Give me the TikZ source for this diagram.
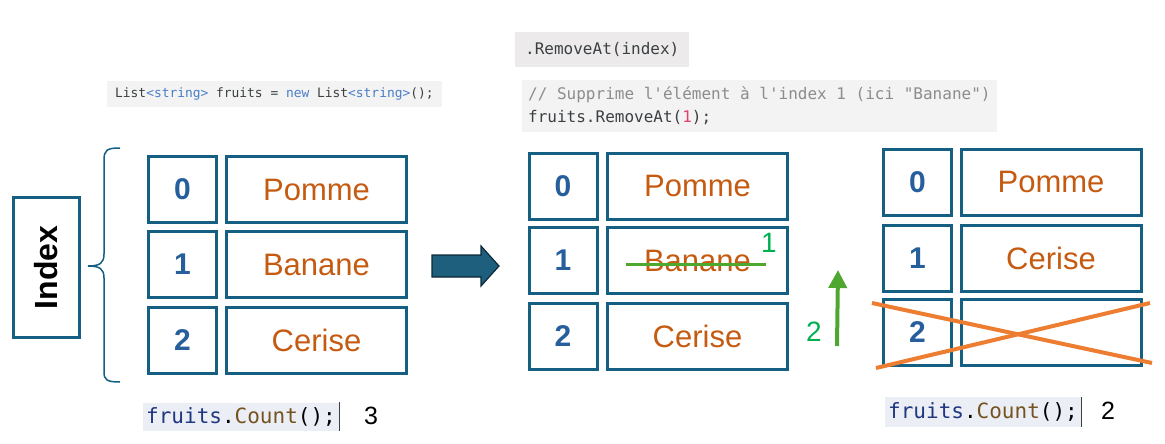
\documentclass[tikz,border=0pt]{standalone}
\usepackage{fontspec}
\setmainfont{Liberation Sans}
\setmonofont{DejaVu Sans Mono}
\usetikzlibrary{arrows.meta}
\definecolor{boxc}{RGB}{21,96,130}
\definecolor{idxc}{RGB}{38,95,155}
\definecolor{fruitc}{RGB}{197,90,17}
\definecolor{strikec}{RGB}{78,167,46}
\definecolor{greenc}{RGB}{0,176,80}
\definecolor{crossc}{RGB}{237,125,49}
\definecolor{arrowc}{RGB}{30,95,125}
\definecolor{arrowdk}{RGB}{12,40,55}
\definecolor{codebg}{RGB}{243,243,243}
\definecolor{codebgb}{RGB}{236,234,234}
\definecolor{codetx}{RGB}{60,64,67}
\definecolor{codekw}{RGB}{74,126,200}
\definecolor{codecm}{RGB}{140,140,140}
\definecolor{coderd}{RGB}{224,66,106}
\definecolor{vsbg}{RGB}{236,238,246}
\definecolor{vsvar}{RGB}{31,55,127}
\definecolor{vsfn}{RGB}{116,83,31}
\begin{document}
\begin{tikzpicture}[x=1pt,y=-1pt]
			\useasboundingbox (0,0) rectangle (1165,444);
			\tikzstyle{idx} = [draw=boxc, line width=3pt, minimum width=68, minimum height=66, inner sep=0, text=idxc, font=\bfseries\fontsize{30}{36}\selectfont]
			\tikzstyle{val} = [draw=boxc, line width=3pt, minimum width=180, minimum height=66, inner sep=0, text=fruitc, font=\fontsize{31}{36}\selectfont]
			\tikzstyle{code} = [fill=codebg, inner ysep=0, text=codetx, font=\ttfamily\fontsize{16}{23}\selectfont]
			\tikzstyle{vs} = [fill=vsbg, inner xsep=3, inner ysep=0, minimum height=28, anchor=west, font=\ttfamily\fontsize{21}{25}\selectfont]
			\tikzstyle{num} = [inner sep=0, font=\fontsize{25}{30}\selectfont]
			\tikzstyle{stepnum} = [inner sep=0, text=greenc, font=\fontsize{28}{32}\selectfont]

			% index label and brace
			\node [draw=boxc, line width=3pt, rotate=90, minimum width=140, minimum height=66, inner sep=0, font=\bfseries\fontsize{32}{36}\selectfont] (lbl) at (46.5,267.5) {Index};
			\draw [boxc, line width=1.5pt] (120,148) .. controls (107,148) and (104,150) .. (104,160) -- (104,254) .. controls (104,263) and (100,266) .. (88,266) .. controls (100,266) and (104,269) .. (104,278) -- (104,372) .. controls (104,380) and (107,382) .. (120,382);

			% list before
			\node [code, anchor=west, inner xsep=8, minimum height=26, font=\ttfamily\fontsize{12.9}{16}\selectfont] (decl) at (107,94) {List\textcolor{codekw}{<string>} fruits = \textcolor{codekw}{new} List\textcolor{codekw}{<string>}();};
			\node [idx] (i10) at (182.5,189.5) {0};
			\node [idx] (i11) at (182.5,264.5) {1};
			\node [idx] (i12) at (182.5,340) {2};
			\node [val] (v10) at (316.5,189.5) {Pomme};
			\node [val] (v11) at (316.5,264.5) {Banane};
			\node [val] (v12) at (316.5,340) {Cerise};
			\node [vs] (cnt1) at (143,416.5) {\textcolor{vsvar}{fruits}.\textcolor{vsfn}{Count}();};
			\draw [codetx, line width=1pt] (cnt1.north east) -- (cnt1.south east);
			\node [num] (n1) at (371,416) {3};

			% arrow
			\filldraw [fill=arrowc, draw=arrowdk, line width=1.2pt] (432,255) -- (481,255) -- (481,246) -- (499,266) -- (481,286) -- (481,277) -- (432,277) -- cycle;

			% list during removal
			\node [code, fill=codebgb, anchor=west, inner xsep=10, minimum height=35] (rm) at (515,49.5) {.RemoveAt(index)};
			\node [code, anchor=north west, inner xsep=6, minimum height=52, align=left] (cmt) at (522,80) {\textcolor{codecm}{// Supprime l'élément à l'index 1 (ici "Banane")}\hspace{9pt}\\fruits.RemoveAt(\textcolor{coderd}{1});};
			\node [idx] (i20) at (563,186) {0};
			\node [idx] (i21) at (563,260.5) {1};
			\node [idx] (i22) at (563,336.5) {2};
			\node [val] (v20) at (697.5,186) {Pomme};
			\node [val] (v21) at (697.5,260.5) {Banane};
			\node [val] (v22) at (697.5,336.5) {Cerise};
			\coordinate (s0) at (626,264);
			\coordinate (s1) at (766,264);
			\draw [strikec, line width=3pt] (s0) -- (s1);
			\node [stepnum] (k1) at (769,243) {1};
			\coordinate (up0) at (837,346);
			\coordinate (up1) at (838,270);
			\draw [-{Triangle[length=18pt,width=18pt]}, strikec, line width=4pt] (up0) -- (up1);
			\node [stepnum] (k2) at (814,332) {2};

			% list after
			\node [idx] (i30) at (917.5,182) {0};
			\node [idx] (i31) at (917.5,258) {1};
			\node [idx] (i32) at (917.5,332.5) {2};
			\node [val] (v30) at (1051,182) {Pomme};
			\node [val] (v31) at (1051,258) {Cerise};
			\node [val] (v32) at (1051,332.5) {};
			\coordinate (x0) at (872,303);
			\coordinate (x1) at (1152,363);
			\coordinate (x2) at (876,368);
			\coordinate (x3) at (1150,303);
			\draw [crossc, line width=4pt] (x0) -- (x1);
			\draw [crossc, line width=4pt] (x2) -- (x3);
			\node [vs, minimum height=30] (cnt2) at (885,412) {\textcolor{vsvar}{fruits}.\textcolor{vsfn}{Count}();};
			\draw [codetx, line width=1pt] (cnt2.north east) -- (cnt2.south east);
			\node [num] (n2) at (1108,411) {2};

		\end{tikzpicture}
\end{document}
